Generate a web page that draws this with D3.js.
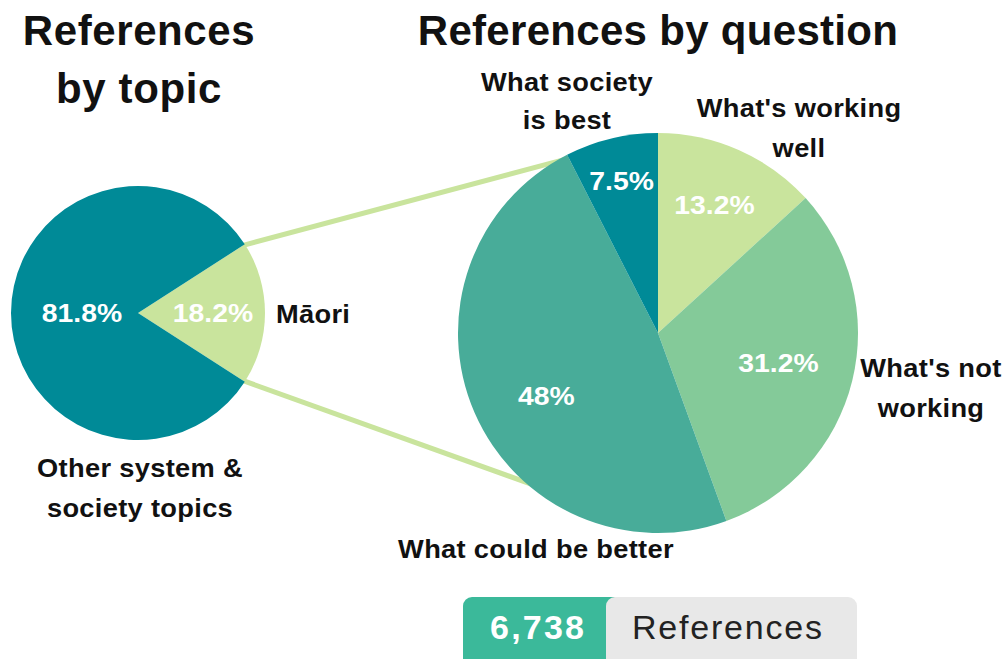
<!DOCTYPE html>
<html>
<head>
<meta charset="utf-8">
<script src="https://cdn.jsdelivr.net/npm/d3@7"></script>
<style>
  body { margin: 0; background: #fff; }
  text { font-family: "Liberation Sans", Arial, sans-serif; }
</style>
</head>
<body>
<script>
  // data
  const topicNames = ["Māori", "Other system & society topics"];
  const topicValues = [18.2, 81.8];
  const topicLabels = ["18.2%", "81.8%"];

  const questionNames = ["What's working well", "What's not working", "What could be better", "What society is best"];
  const questionValues = [13.2, 31.2, 48, 7.5];
  const questionLabels = ["13.2%", "31.2%", "48%", "7.5%"];

  const totalRefs = "6,738";
  const totalText = "References";

  const width = 1008, height = 659;

  let svg = d3.select("body").append("svg")
    .attr("width", width)
    .attr("height", height);

  // colours
  const teal = "#008a97", light = "#c9e49d", mid = "#84ca99", sea = "#48ac99";
  const topicColors = [light, teal];
  const questionColors = [light, mid, sea, teal];

  // text of the picture is a bit wider than Arial, stretch it a little
  const stretch = 1.09;

  // left pie, Māori slice centred on the right
  const lx = 138, ly = 313, lr = 127;
  const maoriShare = topicValues[0] / d3.sum(topicValues);
  const a0 = Math.PI / 2 - maoriShare * Math.PI;
  let leftPie = d3.pie().sort(null).startAngle(a0).endAngle(a0 + 2 * Math.PI);
  let leftArcs = leftPie(topicValues);

  // right pie
  const rx = 658, ry = 333, rr = 200;
  let rightPie = d3.pie().sort(null);
  let rightArcs = rightPie(questionValues);

  // connector lines (drawn first so the pies sit on top)
  let edge = (cx, cy, r, ang) => [cx + r * Math.sin(ang), cy - r * Math.cos(ang)];
  let m = leftArcs[0];
  let topStart = edge(lx, ly, lr - 2, m.startAngle);
  let botStart = edge(lx, ly, lr - 2, m.endAngle);
  let topEnd = edge(rx, ry, rr - 4, rightArcs[3].startAngle);
  let botEnd = edge(rx, ry, rr - 4, 219 * Math.PI / 180);
  let link = d3.line();
  svg.append("path").attr("d", link([topStart, topEnd]))
    .attr("stroke", light).attr("stroke-width", 5).attr("fill", "none");
  svg.append("path").attr("d", link([botStart, botEnd]))
    .attr("stroke", light).attr("stroke-width", 5).attr("fill", "none");

  let leftArc = d3.arc().innerRadius(0).outerRadius(lr);
  let gl = svg.append("g").attr("transform", "translate(" + lx + "," + ly + ")");
  gl.selectAll("path").data(leftArcs).enter().append("path")
    .attr("d", leftArc)
    .attr("fill", (d, i) => topicColors[i]);

  function pctLabels(g, arcs, radii, shifts, labels) {
    g.selectAll("g.pct").data(arcs).enter().append("g")
      .attr("class", "pct")
      .attr("transform", (d, i) => {
        let a = (d.startAngle + d.endAngle) / 2 + shifts[i];
        return "translate(" + (radii[i] * Math.sin(a)) + "," + (-radii[i] * Math.cos(a)) + ") scale(" + stretch + ",1)";
      })
      .append("text")
      .attr("dy", "0.35em")
      .attr("text-anchor", "middle")
      .attr("fill", "#fff")
      .attr("font-weight", 700)
      .attr("font-size", 26)
      .text((d, i) => labels[i]);
  }

  pctLabels(gl, leftArcs, [75, 56], [0, 0], topicLabels);

  let rightArc = d3.arc().innerRadius(0).outerRadius(rr);
  let gr = svg.append("g").attr("transform", "translate(" + rx + "," + ry + ")");
  gr.selectAll("path").data(rightArcs).enter().append("path")
    .attr("d", rightArc)
    .attr("fill", (d, i) => questionColors[i]);

  pctLabels(gr, rightArcs, [140, 124, 128, 156], [0, 0, -0.1, 0], questionLabels);

  // titles and labels
  function multiText(x, y, lines, size, anchor, lh, ls, sx) {
    let t = svg.append("g")
      .attr("transform", "translate(" + x + "," + y + ") scale(" + sx + ",1)")
      .append("text")
      .attr("text-anchor", anchor)
      .attr("font-size", size)
      .attr("font-weight", 700)
      .attr("letter-spacing", ls)
      .attr("fill", "#111");
    lines.forEach((s, i) => {
      t.append("tspan").attr("x", 0).attr("dy", i === 0 ? 0 : lh).text(s);
    });
    return t;
  }

  multiText(139, 45, ["References", "by topic"], 42, "middle", 58, 0.6, 1);
  multiText(658, 45, ["References by question"], 42, "middle", 0, 0.3, 1);

  multiText(567, 91, ["What society", "is best"], 25, "middle", 38, 0.3, stretch);
  multiText(799, 117, ["What's working", "well"], 25, "middle", 40, 0.3, stretch);
  multiText(931, 377, ["What's not", "working"], 25, "middle", 40, 0.3, stretch);
  multiText(536, 558, ["What could be better"], 25, "middle", 0, 0.3, stretch);
  multiText(276, 323, [topicNames[0]], 25, "start", 0, 0.3, stretch);
  multiText(140, 477, ["Other system &", "society topics"], 25, "middle", 40, 0.3, stretch);

  // total badge
  const bx = 463, by = 597, bh = 75;
  svg.append("rect").attr("x", bx).attr("y", by).attr("width", 160).attr("height", bh)
    .attr("rx", 9).attr("fill", "#3bb99a");
  svg.append("rect").attr("x", 606).attr("y", by).attr("width", 251).attr("height", bh)
    .attr("rx", 9).attr("fill", "#e8e8e8");
  svg.append("text").attr("x", 537).attr("y", 639)
    .attr("text-anchor", "middle")
    .attr("font-family", "Roboto, sans-serif")
    .attr("font-size", 34).attr("font-weight", 700)
    .attr("textLength", 94).attr("lengthAdjust", "spacing")
    .attr("fill", "#fff").text(totalRefs);
  svg.append("text").attr("x", 632).attr("y", 639)
    .attr("font-family", "Roboto, sans-serif")
    .attr("font-size", 34)
    .attr("textLength", 190).attr("lengthAdjust", "spacing")
    .attr("fill", "#222").text(totalText);
</script>
</body>
</html>
